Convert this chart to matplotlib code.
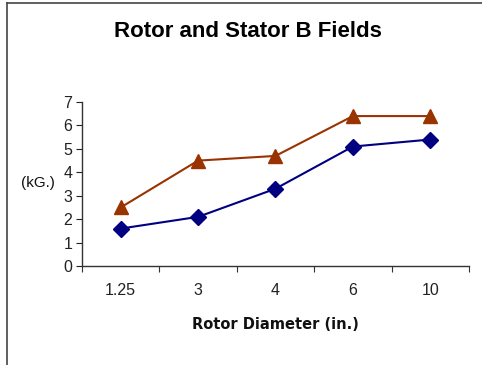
import matplotlib.pyplot as plt
from matplotlib.lines import Line2D
import numpy as np

# Rotor diameter categories and field strengths (kG.)
diameters = ['1.25', '3', '4', '6', '10']
rotor_field = [1.6, 2.1, 3.3, 5.1, 5.4]
stator_field = [2.5, 4.5, 4.7, 6.4, 6.4]

plt.rcParams['font.family'] = ['Liberation Sans', 'DejaVu Sans']

fig = plt.figure(figsize=(4.82, 3.65), dpi=100)
ax = fig.add_axes([0.170, 0.271, 0.803, 0.4495])

x = np.arange(len(diameters))
ax.plot(x, stator_field, color='#993300', lw=1.5, marker='^', ms=10,
        markeredgecolor='#993300', markerfacecolor='#993300', clip_on=False)
ax.plot(x, rotor_field, color='#000080', lw=1.5, marker='D', ms=8,
        markeredgecolor='#000080', markerfacecolor='#000080', clip_on=False)

ax.set_xlim(-0.5, len(diameters) - 0.5)
ax.set_ylim(0, 7)
ax.set_yticks(range(0, 8))
ax.set_xticks(np.arange(-0.5, len(diameters), 1.0))
ax.set_xticklabels([])
ax.set_xticks(x, minor=True)
ax.set_xticklabels(diameters, minor=True)
ax.tick_params(axis='x', which='minor', length=0, pad=12, labelsize=11.5, colors='#222222')
ax.tick_params(axis='x', which='major', length=4, direction='out', color='#333333')
ax.tick_params(axis='y', length=4, direction='out', pad=3, labelsize=11.5,
               colors='#222222')

for side in ['top', 'right']:
    ax.spines[side].set_visible(False)
for side in ['left', 'bottom']:
    ax.spines[side].set_color('#333333')
    ax.spines[side].set_linewidth(1.0)

fig.text(0.515, 0.915, 'Rotor and Stator B Fields', ha='center', va='center',
         fontsize=16, fontweight='bold')
fig.text(0.078, 0.500, '(kG.)', ha='center', va='center', fontsize=11,
         color='#111111')
fig.text(0.571, 0.110, 'Rotor Diameter (in.)', ha='center', va='center',
         fontsize=10.5, fontweight='bold', color='#111111', family='DejaVu Sans')

# chart frame (left and top edges visible)
fig.add_artist(Line2D([7 / 482, 7 / 482], [0, 1 - 3 / 365], transform=fig.transFigure,
                      color='#444444', lw=1.2))
fig.add_artist(Line2D([7 / 482, 1], [1 - 3 / 365, 1 - 3 / 365], transform=fig.transFigure,
                      color='#444444', lw=1.2))

fig.savefig('out.png', dpi=100)
